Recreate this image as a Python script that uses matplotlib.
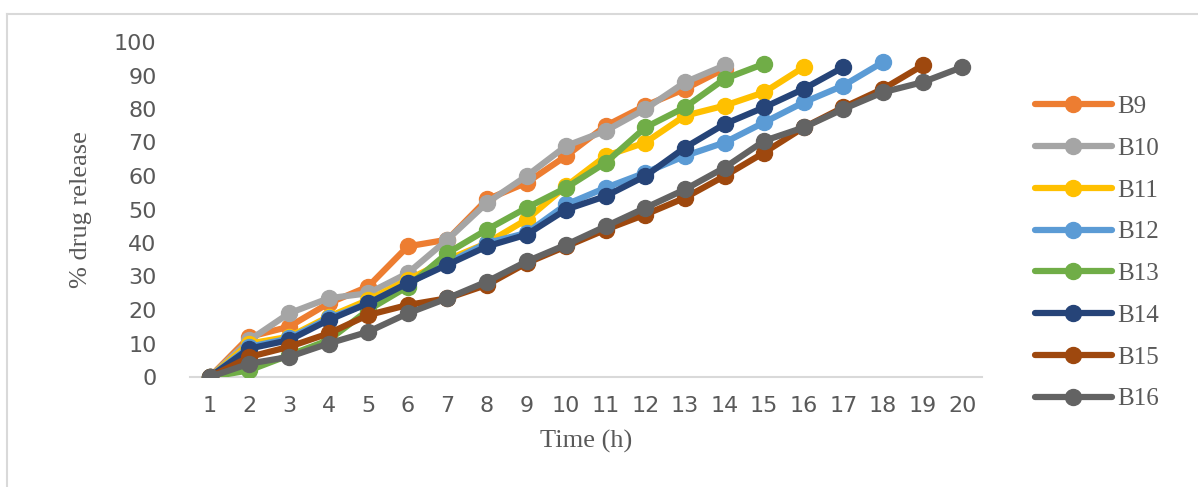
import matplotlib.pyplot as plt
from matplotlib.lines import Line2D

# time points (h) and % drug release per batch
hours = list(range(1, 21))
series_names = ["B9", "B10", "B11", "B12", "B13", "B14", "B15", "B16"]

b9 = [0, 12, 15, 22, 27, 39, 41, 53, 58, 66, 75, 81, 86, 92]
b10 = [0, 11, 19, 23.5, 25, 31, 41, 52, 60, 69, 73.5, 80, 88, 93]
b11 = [0, 10, 12, 18, 23, 29, 35, 40, 47, 57, 66, 70, 78, 81, 85, 92.5]
b12 = [0, 9, 11.5, 17.5, 22, 28, 34, 40, 43, 51.5, 56.5, 61, 66, 70, 76, 82, 87, 94]
b13 = [0, 2, 6.5, 11, 20, 27, 37, 44, 50.5, 56.5, 64, 74.5, 80.5, 89, 93.5]
b14 = [0, 8.5, 11, 17, 22, 28, 33.5, 39, 42.5, 50, 54, 60, 68.5, 75.5, 80.5, 86, 92.5]
b15 = [0, 6, 9, 13, 18.5, 21.5, 23.5, 27.5, 34, 39, 44, 48.5, 53.5, 60, 67, 74.5, 80.5, 86, 93]
b16 = [0, 4, 6, 10, 13.5, 19, 23.5, 28.5, 34.5, 39.5, 45, 50.5, 56, 62.5, 70.5, 74.5, 80, 85, 88, 92.5]
all_series = [b9, b10, b11, b12, b13, b14, b15, b16]

colors = ["#ED7D31", "#A5A5A5", "#FFC000", "#5B9BD5",
          "#70AD47", "#264478", "#9E480E", "#636363"]

fig = plt.figure(figsize=(11.98, 4.87), dpi=100)
ax = fig.add_axes([190 / 1198, 1 - 377 / 487, 792 / 1198, 335 / 487])

for name, vals, c in zip(series_names, all_series, colors):
    ax.plot(hours[:len(vals)], vals, color=c, lw=4.5, marker="o",
            markersize=11.5, label=name, solid_capstyle="round")

ax.set_xlim(0.5, 20.5)
ax.set_ylim(0, 100)
ax.set_xticks(hours)
ax.set_yticks(range(0, 101, 10))
ax.tick_params(length=0, labelsize=16, labelcolor="#595959", pad=14)
ax.tick_params(axis="y", pad=24)
for s in ["top", "right", "left"]:
    ax.spines[s].set_visible(False)
ax.spines["bottom"].set_color("#d9d9d9")
ax.spines["bottom"].set_linewidth(1.5)
ax.spines["bottom"].set_zorder(0)

ax.set_xlabel("Time (h)", family="Liberation Serif", fontsize=19,
              color="#595959", labelpad=10)
ax.set_ylabel("% drug release", family="Liberation Serif", fontsize=19,
              color="#595959", labelpad=16)

fig.legend(loc="center left", bbox_to_anchor=(1012 / 1198, 1 - 253 / 487),
           frameon=False, handlelength=3.1, handletextpad=0.2,
           labelspacing=0.77, prop={"family": "Liberation Serif", "size": 18},
           labelcolor="#595959")

# outer chart frame
fig.add_artist(Line2D([7 / 1198, 7 / 1198], [0, 1 - 14 / 487],
                      transform=fig.transFigure, color="#d9d9d9", lw=1.5))
fig.add_artist(Line2D([7 / 1198, 1], [1 - 14 / 487, 1 - 14 / 487],
                      transform=fig.transFigure, color="#d9d9d9", lw=1.5))

fig.savefig("out.png", dpi=100)
